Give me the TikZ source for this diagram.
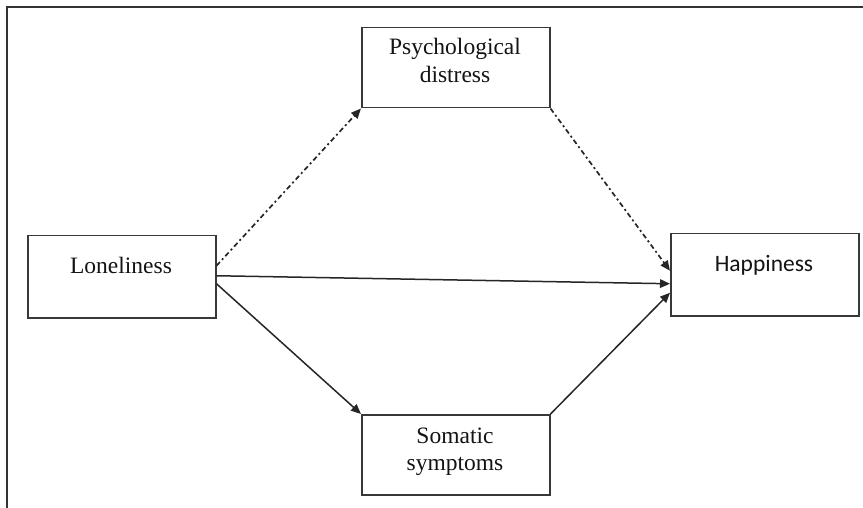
\documentclass[tikz,border=0pt]{standalone}
\usepackage{fontspec}
\setmainfont{Liberation Serif}
\newfontfamily\happyfont{Carlito}
\usetikzlibrary{arrows.meta,calc}
\begin{document}
\begin{tikzpicture}[x=1pt,y=-1pt,
  box/.style={draw=black!78,line width=1.5pt,minimum width=188pt,minimum height=81pt,inner sep=0pt,anchor=north west},
  lbl/.style={anchor=base,inner sep=0pt,text=black!92,font=\fontsize{23.5}{28}\selectfont},
  conn/.style={draw=black!85,line width=1.5pt,-{Triangle[length=10pt,width=8.5pt]}},
  dashdot/.style={conn,line width=1.7pt,dash pattern=on 5pt off 3pt on 2pt off 3pt}]
\useasboundingbox (0,0) rectangle (863,508);
\fill[white] (0,0) rectangle (863,508);
% frame
\coordinate (ftr) at (863,7);
\coordinate (ftl) at (7,7);
\coordinate (fbl) at (7,508);
\draw[black!80,line width=1.5pt] (ftr) -- (ftl) -- (fbl);
% boxes
\node[box,minimum height=80pt] (psy) at (361,27) {};
\node[box,minimum height=82pt] (lon) at (27,235) {};
\node[box,minimum height=82pt] (hap) at (670,233) {};
\node[box,minimum height=80pt] (som) at (361,414) {};
% texts
\node[lbl] (psyA) at (455,55) {Psychological};
\node[lbl] (psyB) at (455,83) {distress};
\node[lbl] (lonT) at (121,273) {Loneliness};
\node[lbl,font=\happyfont\fontsize{23.5}{28}\selectfont] (hapT) at (764,272) {Happiness};
\node[lbl] (somA) at (455,443) {Somatic};
\node[lbl] (somB) at (455,470) {symptoms};
% connectors
\draw[dashdot] ([yshift=11pt]lon.east) -- (psy.south west);
\draw[dashdot] (psy.south east) -- ([yshift=4pt]hap.west);
\draw[conn] ([yshift=1pt]lon.east) -- ([yshift=-9pt]hap.west);
\draw[conn] ([yshift=-7pt]lon.east) -- (som.north west);
\draw[conn] (som.north east) -- ([yshift=-18pt]hap.west);
\end{tikzpicture}
\end{document}
